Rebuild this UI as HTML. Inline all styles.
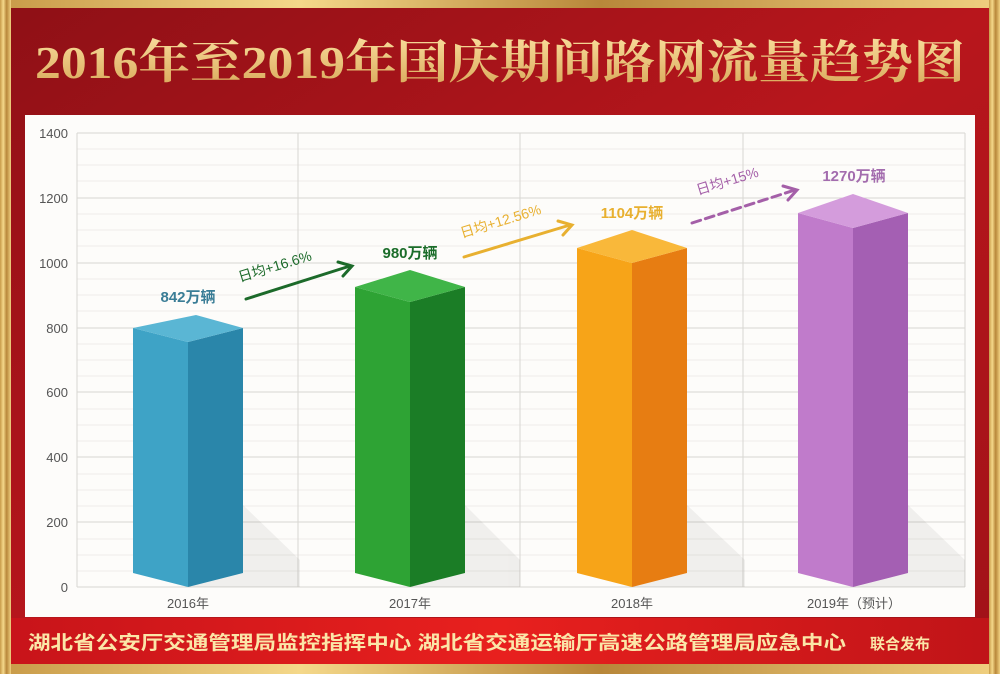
<!DOCTYPE html>
<html><head><meta charset="utf-8"><style>
html,body{margin:0;padding:0;width:1000px;height:674px;overflow:hidden;background:#9e1418}
</style></head><body>
<svg width="1000" height="674" viewBox="0 0 1000 674" xmlns="http://www.w3.org/2000/svg" font-family="'Liberation Sans','Noto Sans CJK SC',sans-serif">
<defs>
<linearGradient id="bg" x1="0" y1="0" x2="1" y2="1">
<stop offset="0" stop-color="#8e1016"/><stop offset="0.5" stop-color="#b8161c"/><stop offset="1" stop-color="#a01218"/></linearGradient>
<linearGradient id="gold" x1="0" y1="0" x2="1" y2="0">
<stop offset="0" stop-color="#c89a48"/><stop offset="0.3" stop-color="#f4d88a"/><stop offset="0.6" stop-color="#b8873a"/><stop offset="1" stop-color="#f0d080"/></linearGradient>
<linearGradient id="tg" x1="0" y1="0" x2="0" y2="1">
<stop offset="0" stop-color="#f8dc9a"/><stop offset="1" stop-color="#d9a85a"/></linearGradient>
<linearGradient id="red2" x1="0" y1="0" x2="1" y2="0">
<stop offset="0" stop-color="#c8141a"/><stop offset="0.5" stop-color="#e8201e"/><stop offset="1" stop-color="#c01418"/></linearGradient>
</defs>
<rect width="1000" height="674" fill="url(#bg)"/>
<rect x="0" y="0" width="1000" height="8" fill="url(#gold)"/>
<rect x="0" y="664" width="1000" height="10" fill="url(#gold)"/>
<rect x="0" y="0" width="11" height="674" fill="url(#gold)"/>
<rect x="989" y="0" width="11" height="674" fill="url(#gold)"/>
<rect x="11" y="618" width="978" height="46" fill="url(#red2)"/>
<text x="500" y="78" text-anchor="middle" font-family="'Liberation Serif','Noto Serif CJK SC',serif" font-size="46" font-weight="bold" fill="url(#tg)" textLength="930" lengthAdjust="spacingAndGlyphs">2016年至2019年国庆期间路网流量趋势图</text>
<rect x="25" y="115" width="950" height="502" fill="#fdfcfa"/>
<g stroke="#efede9" stroke-width="1">
<line x1="77" y1="149" x2="965" y2="149"/><line x1="77" y1="165" x2="965" y2="165"/><line x1="77" y1="181" x2="965" y2="181"/>
<line x1="77" y1="214" x2="965" y2="214"/><line x1="77" y1="230" x2="965" y2="230"/><line x1="77" y1="246" x2="965" y2="246"/>
<line x1="77" y1="279" x2="965" y2="279"/><line x1="77" y1="295" x2="965" y2="295"/><line x1="77" y1="311" x2="965" y2="311"/>
<line x1="77" y1="344" x2="965" y2="344"/><line x1="77" y1="360" x2="965" y2="360"/><line x1="77" y1="376" x2="965" y2="376"/>
<line x1="77" y1="409" x2="965" y2="409"/><line x1="77" y1="425" x2="965" y2="425"/><line x1="77" y1="441" x2="965" y2="441"/>
<line x1="77" y1="474" x2="965" y2="474"/><line x1="77" y1="490" x2="965" y2="490"/><line x1="77" y1="506" x2="965" y2="506"/>
<line x1="77" y1="539" x2="965" y2="539"/><line x1="77" y1="555" x2="965" y2="555"/><line x1="77" y1="571" x2="965" y2="571"/>
</g>
<g stroke="#d8d6d2" stroke-width="1">
<line x1="77" y1="133" x2="965" y2="133"/><line x1="77" y1="198" x2="965" y2="198"/><line x1="77" y1="263" x2="965" y2="263"/>
<line x1="77" y1="328" x2="965" y2="328"/><line x1="77" y1="392" x2="965" y2="392"/><line x1="77" y1="457" x2="965" y2="457"/>
<line x1="77" y1="522" x2="965" y2="522"/><line x1="77" y1="587" x2="965" y2="587"/>
<line x1="77" y1="133" x2="77" y2="587"/><line x1="298" y1="133" x2="298" y2="587"/><line x1="520" y1="133" x2="520" y2="587"/><line x1="743" y1="133" x2="743" y2="587"/><line x1="965" y1="133" x2="965" y2="587"/>
</g>
<g font-size="13" fill="#555" text-anchor="end">
<text x="68" y="138">1400</text><text x="68" y="203">1200</text><text x="68" y="268">1000</text><text x="68" y="333">800</text>
<text x="68" y="397">600</text><text x="68" y="462">400</text><text x="68" y="527">200</text><text x="68" y="592">0</text>
</g>
<g font-size="13" fill="#555" text-anchor="middle">
<text x="188" y="608">2016年</text><text x="410" y="608">2017年</text><text x="632" y="608">2018年</text><text x="854" y="608">2019年（预计）</text>
</g>
<g fill="#000" opacity="0.05">
<polygon points="243,573 243,505 300,560 300,587 188,587"/>
<polygon points="465,573 465,505 520,560 520,587 410,587"/>
<polygon points="687,573 687,505 745,560 745,587 632,587"/>
<polygon points="908,573 908,505 965,560 965,587 854,587"/>
</g>
<polygon points="133,328 188,342 188,587 133,573" fill="#3ea3c6"/>
<polygon points="188,342 243,328 243,573 188,587" fill="#2a86aa"/>
<polygon points="133,328 196,315 243,328 188,342" fill="#5ab6d4"/>
<polygon points="355,287 410,302 410,587 355,573" fill="#2ea334"/>
<polygon points="410,302 465,287 465,573 410,587" fill="#1b7d26"/>
<polygon points="355,287 410,270 465,287 410,302" fill="#40b548"/>
<polygon points="577,248 632,263 632,587 577,573" fill="#f7a418"/>
<polygon points="632,263 687,248 687,573 632,587" fill="#e77d12"/>
<polygon points="577,248 632,230 687,248 632,263" fill="#f9b83a"/>
<polygon points="798,213 853,228 853,587 798,573" fill="#c07bcb"/>
<polygon points="853,228 908,213 908,573 853,587" fill="#a45fb3"/>
<polygon points="798,213 853,194 908,213 853,228" fill="#d49cdc"/>
<g font-size="15" font-weight="bold" text-anchor="middle">
<text x="188" y="302" fill="#3a7d96">842万辆</text>
<text x="410" y="258" fill="#1b6d2a">980万辆</text>
<text x="632" y="218" fill="#e8b030">1104万辆</text>
<text x="854" y="181" fill="#a36cae">1270万辆</text>
</g>
<g stroke-width="3" fill="none" stroke-linecap="round">
<line x1="246" y1="299" x2="350" y2="266" stroke="#1c6a2a"/><polyline points="338,262 352,266 343,276" stroke="#1c6a2a"/>
<line x1="464" y1="257" x2="570" y2="225" stroke="#e8b030"/><polyline points="558,221 572,225 563,235" stroke="#e8b030"/>
<line x1="692" y1="223" x2="795" y2="190" stroke="#a45fa8" stroke-dasharray="9,5"/><polyline points="783,186 797,190 788,200" stroke="#a45fa8"/>
</g>
<g font-size="14">
<text x="0" y="0" fill="#1c6a2a" transform="translate(240,282) rotate(-17)">日均+16.6%</text>
<text x="0" y="0" fill="#e8b030" transform="translate(462,238) rotate(-17)">日均+12.56%</text>
<text x="0" y="0" fill="#a45fa8" transform="translate(698,195) rotate(-17)">日均+15%</text>
</g>
<text x="28" y="649" font-size="19" font-weight="bold" fill="#fbe6a8" textLength="818" lengthAdjust="spacingAndGlyphs">湖北省公安厅交通管理局监控指挥中心  湖北省交通运输厅高速公路管理局应急中心</text>
<text x="870" y="649" font-size="15" font-weight="bold" fill="#fbe6a8">联合发布</text>
</svg>
</body></html>
